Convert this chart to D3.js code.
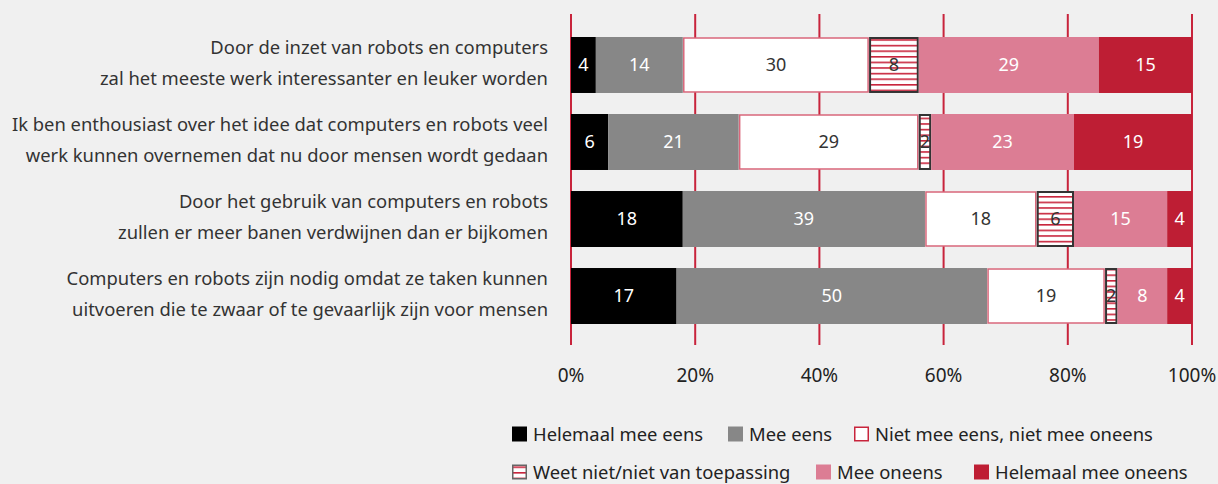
<!DOCTYPE html>
<html>
<head>
<meta charset="utf-8">
<script src="https://cdn.jsdelivr.net/npm/d3@7"></script>
<style>
  body { margin: 0; background: #f0f0f0; }
  svg { display: block; font-family: "Noto Sans", sans-serif; }
</style>
</head>
<body>
<div id="chart"></div>
<script>
// stellingen (twee regels per label)
const statements = [
  ["Door de inzet van robots en computers", "zal het meeste werk interessanter en leuker worden"],
  ["Ik ben enthousiast over het idee dat computers en robots veel", "werk kunnen overnemen dat nu door mensen wordt gedaan"],
  ["Door het gebruik van computers en robots", "zullen er meer banen verdwijnen dan er bijkomen"],
  ["Computers en robots zijn nodig omdat ze taken kunnen", "uitvoeren die te zwaar of te gevaarlijk zijn voor mensen"]
];

const seriesNames = [
  "Helemaal mee eens",
  "Mee eens",
  "Niet mee eens, niet mee oneens",
  "Weet niet/niet van toepassing",
  "Mee oneens",
  "Helemaal mee oneens"
];

const helemaalEens   = [4, 6, 18, 17];
const meeEens        = [14, 21, 39, 50];
const neutraal       = [30, 29, 18, 19];
const weetNiet       = [8, 2, 6, 2];
const meeOneens      = [29, 23, 15, 8];
const helemaalOneens = [15, 19, 4, 4];

const tickValues = [0, 20, 40, 60, 80, 100];

const seriesValues = [helemaalEens, meeEens, neutraal, weetNiet, meeOneens, helemaalOneens];

const width = 1218, height = 484;

const svg = d3.select("#chart").append("svg")
  .attr("width", width)
  .attr("height", height);

// arcering voor "weet niet"
const defs = svg.append("defs");
const pat = defs.append("pattern")
  .attr("id", "hatch")
  .attr("patternUnits", "userSpaceOnUse")
  .attr("width", 8).attr("height", 5.6);
pat.append("rect").attr("width", 8).attr("height", 5.6).attr("fill", "#fff");
pat.append("rect").attr("y", 0).attr("width", 8).attr("height", 1.6).attr("fill", "#c8243c");

const fills = ["#000000", "#878787", "#ffffff", "url(#hatch)", "#dc7d94", "#be1e34"];
const strokes = [null, null, "#d9677b", "#333333", null, null];
const textColors = ["#fff", "#fff", "#333", "#333", "#fff", "#fff"];

// gestapelde data
const rows = statements.map((s, i) => {
  const r = { id: i };
  seriesNames.forEach((n, k) => r[n] = seriesValues[k][i]);
  return r;
});
const stacked = d3.stack().keys(seriesNames)(rows);

const x = d3.scaleLinear().domain([0, 100]).range([571, 1192]);
const y = d3.scaleBand().domain(d3.range(statements.length)).range([37, 324]).paddingInner(0.273).paddingOuter(0);

// rasterlijnen
svg.append("g").selectAll("line")
  .data(tickValues)
  .join("line")
    .attr("x1", d => x(d)).attr("x2", d => x(d))
    .attr("y1", 14).attr("y2", 345)
    .attr("stroke", "#c8243c")
    .attr("stroke-width", 2);

// balken
const layers = svg.append("g").selectAll("g")
  .data(stacked)
  .join("g");

layers.selectAll("rect")
  .data((d, k) => d.map(v => ({ v, k })))
  .join("rect")
    .attr("x", d => x(d.v[0]) + (strokes[d.k] ? 1 : 0))
    .attr("y", (d, i) => y(i) + (strokes[d.k] ? 1 : 0))
    .attr("width", d => x(d.v[1]) - x(d.v[0]) - (strokes[d.k] ? 2 : 0))
    .attr("height", d => y.bandwidth() - (strokes[d.k] ? 2 : 0))
    .attr("fill", d => fills[d.k])
    .attr("stroke", d => strokes[d.k])
    .attr("stroke-width", d => d.k === 3 ? 2 : 1.5);

layers.selectAll("text")
  .data((d, k) => d.map(v => ({ v, k })))
  .join("text")
    .attr("x", d => (x(d.v[0]) + x(d.v[1])) / 2)
    .attr("y", (d, i) => y(i) + y.bandwidth() / 2)
    .attr("dy", "0.36em")
    .attr("text-anchor", "middle")
    .attr("fill", d => textColors[d.k])
    .style("font-size", "18px")
    .text(d => d.v[1] - d.v[0]);

// categorielabels
const labels = svg.append("g").selectAll("text")
  .data(statements)
  .join("text")
    .attr("x", 548)
    .attr("y", (d, i) => y(i) + y.bandwidth() / 2)
    .attr("text-anchor", "end")
    .attr("fill", "#333")
    .style("font-size", "18.4px");
labels.selectAll("tspan")
  .data(d => d)
  .join("tspan")
    .attr("x", 548)
    .attr("dy", (d, j) => j === 0 ? "-0.6em" : "1.68em")
    .text(d => d);

// as-labels
svg.append("g").selectAll("text")
  .data(tickValues)
  .join("text")
    .attr("x", d => x(d))
    .attr("y", 382)
    .attr("text-anchor", "middle")
    .attr("fill", "#222")
    .style("font-size", "19px")
    .text(d => d + "%");

// legenda
const legendPos = [
  [512, 434], [728, 434], [854, 434],
  [512, 472], [816, 472], [974, 472]
];
const legend = svg.append("g").selectAll("g")
  .data(seriesNames)
  .join("g")
    .attr("transform", (d, k) => `translate(${legendPos[k][0]},${legendPos[k][1]})`);
legend.append("rect")
  .attr("x", (d, k) => strokes[k] ? 0.75 : 0)
  .attr("y", (d, k) => -7.5 + (strokes[k] ? 0.75 : 0))
  .attr("width", (d, k) => 15 - (strokes[k] ? 1.5 : 0))
  .attr("height", (d, k) => 15 - (strokes[k] ? 1.5 : 0))
  .attr("fill", (d, k) => fills[k])
  .attr("stroke", (d, k) => k === 2 ? "#c8243c" : (k === 3 ? "#666" : null))
  .attr("stroke-width", 1.5);
legend.append("text")
  .attr("x", 21)
  .attr("dy", "0.36em")
  .attr("fill", "#222")
  .style("font-size", "18.4px")
  .text(d => d);
</script>
</body>
</html>
